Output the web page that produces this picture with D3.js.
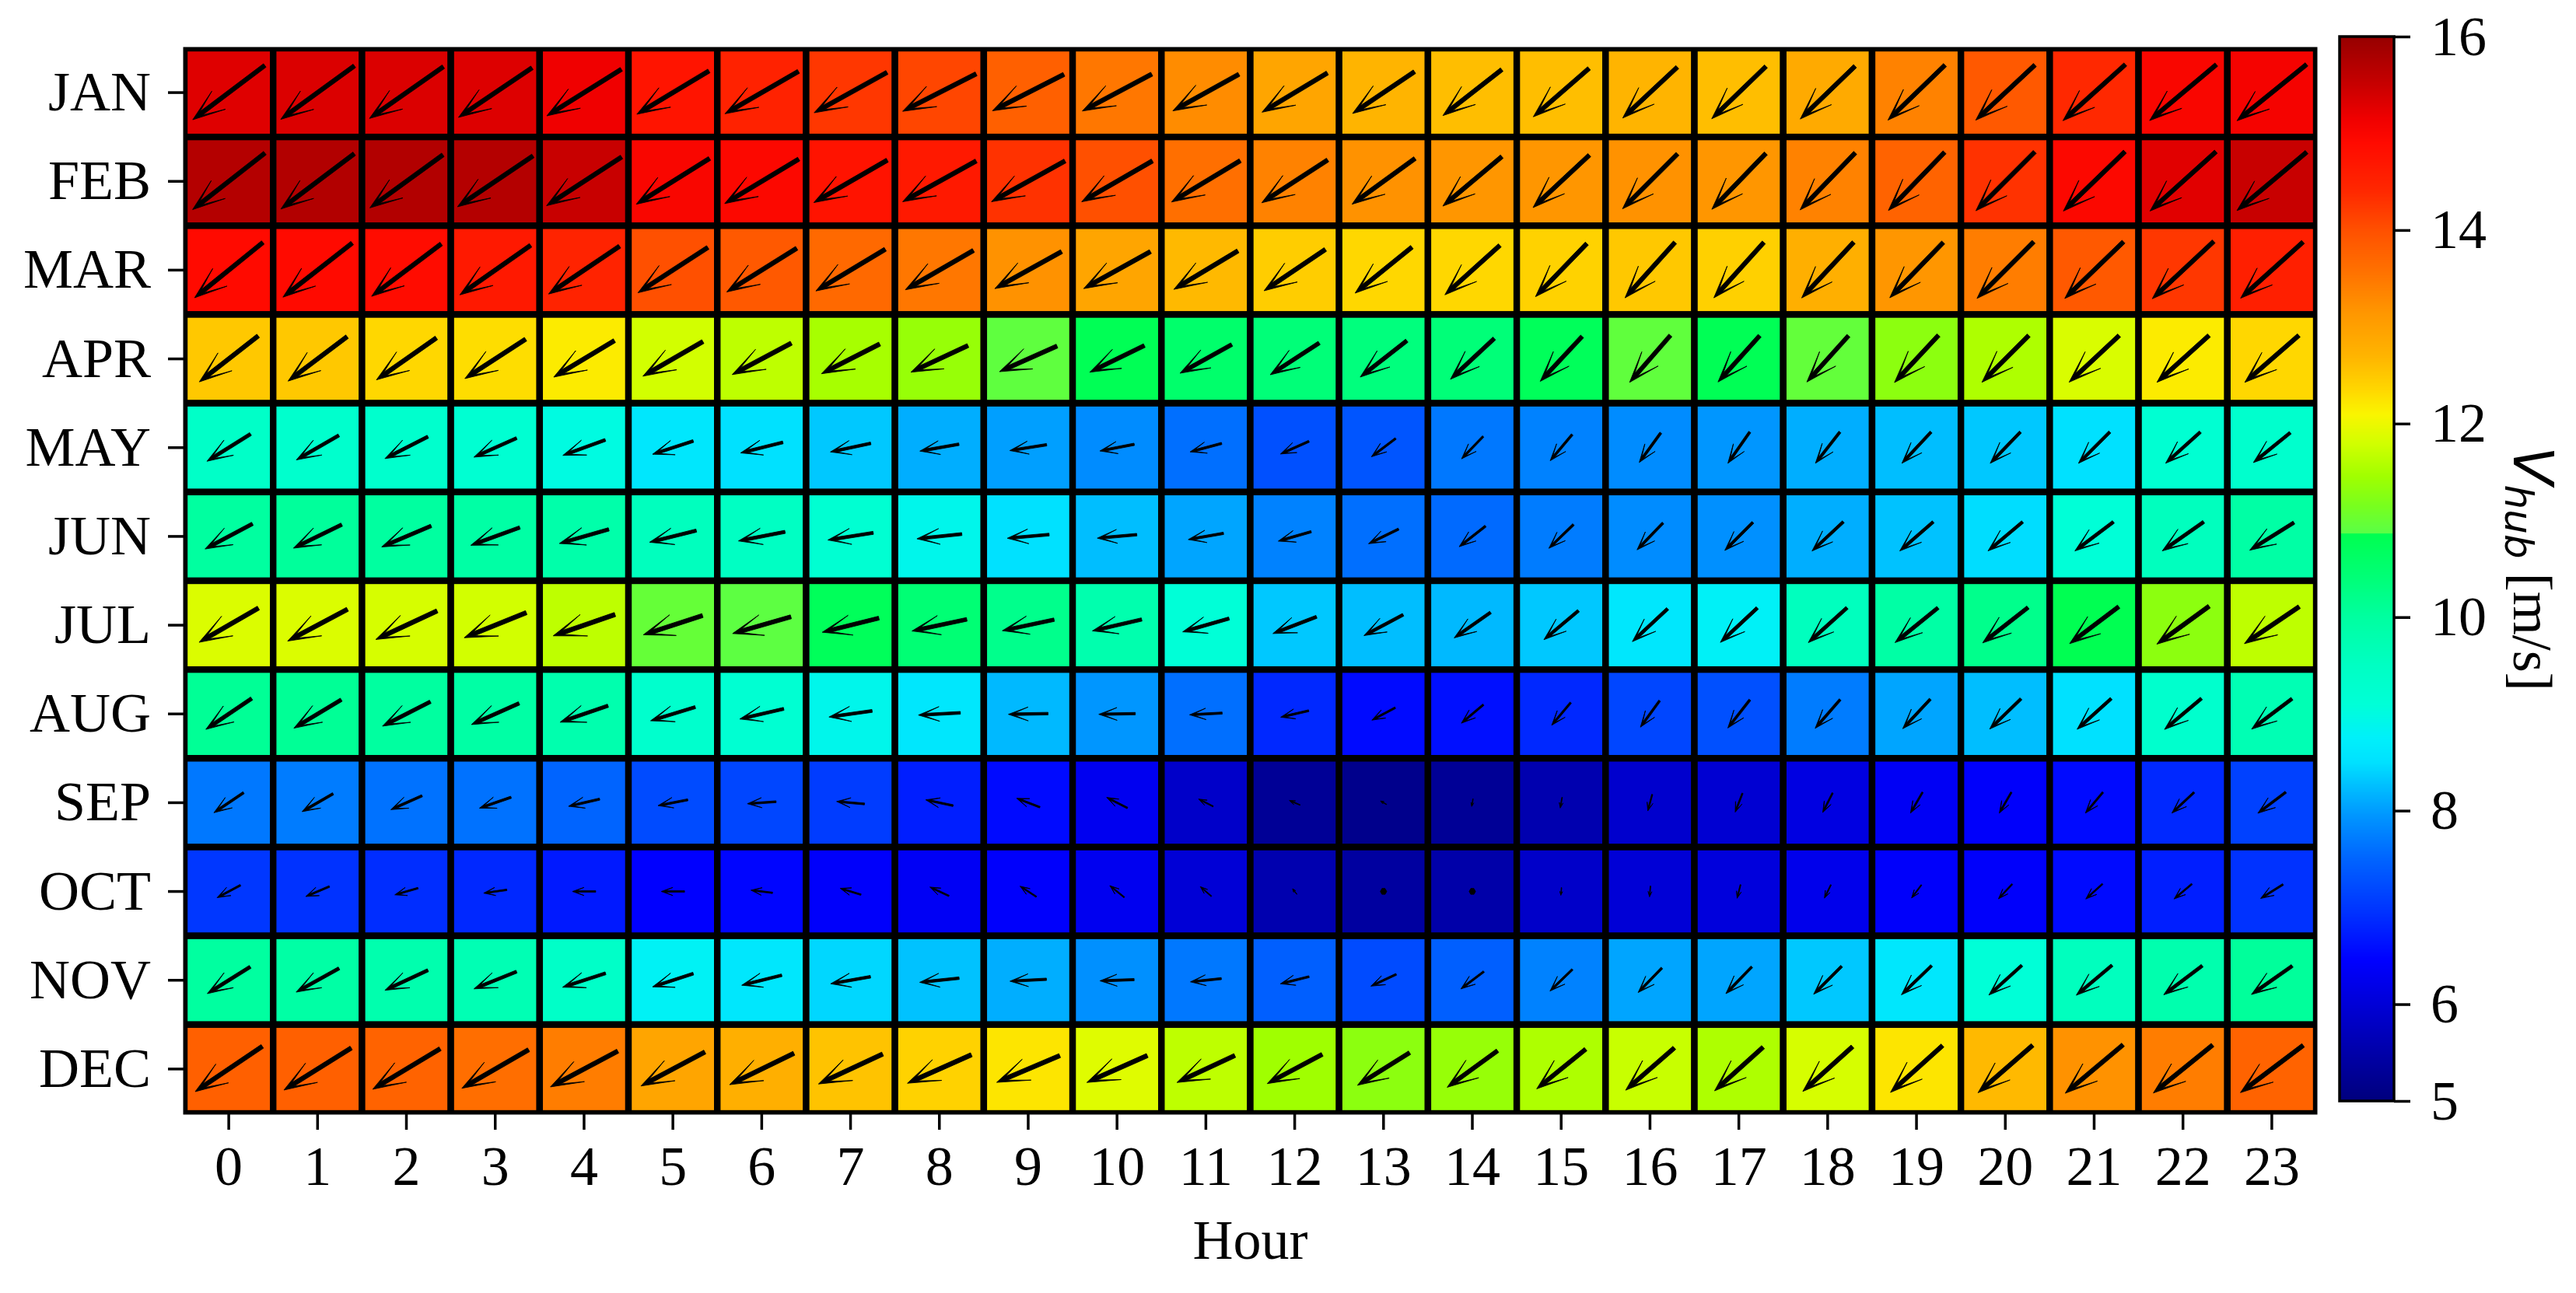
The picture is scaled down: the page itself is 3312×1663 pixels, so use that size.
<!DOCTYPE html>
<html><head><meta charset="utf-8">
<script src="https://cdn.jsdelivr.net/npm/d3@7"></script>
<style>body{margin:0;background:#fff} svg{display:block}</style>
</head><body>
<svg id="chart" width="3312" height="1663"></svg>
<script>
// ---------------- DATA ----------------
const months = ["JAN","FEB","MAR","APR","MAY","JUN","JUL","AUG","SEP","OCT","NOV","DEC"];
const hours = ["0","1","2","3","4","5","6","7","8","9","10","11","12","13","14","15","16","17","18","19","20","21","22","23"];
const colorbarTicks = [5, 6, 8, 10, 12, 14, 16];
const colorbarLabel = "V_hub [m/s]";
const xLabel = "Hour";

// hub-height wind speed (m/s), rows = months, cols = hours
const vhub = [
  [15.3,15.33,15.33,15.32,15.15,14.73,14.5,14.25,14.1,13.8,13.5,13.27,12.93,12.7,12.6,12.6,12.7,12.6,12.85,13.38,13.88,14.4,15.0,15.07],
  [15.7,15.72,15.72,15.7,15.5,15.0,14.95,14.75,14.65,14.3,14.0,13.6,13.38,13.2,13.15,13.15,13.2,13.15,13.38,13.75,14.3,14.95,15.28,15.5],
  [14.9,14.9,14.87,14.65,14.48,14.0,13.88,13.68,13.5,13.2,12.93,12.65,12.45,12.35,12.35,12.4,12.5,12.42,12.78,13.15,13.44,13.88,14.25,14.55],
  [12.5,12.5,12.35,12.3,12.18,11.8,11.66,11.5,11.38,10.92,10.8,10.55,10.4,10.35,10.4,10.75,10.93,10.8,10.95,11.3,11.55,11.85,12.18,12.35],
  [9.4,9.3,9.3,9.2,9.0,8.6,8.5,8.32,8.13,8.02,7.86,7.6,7.28,7.33,7.68,7.77,7.86,7.95,8.13,8.25,8.32,8.5,9.2,9.3],
  [10.0,10.05,10.0,9.93,9.86,9.57,9.5,9.2,8.9,8.5,8.25,8.06,7.77,7.6,7.55,7.72,7.86,7.9,8.13,8.28,8.47,9.1,9.57,9.93],
  [11.87,11.87,11.83,11.8,11.66,10.97,10.9,10.75,10.45,10.2,9.8,9.1,8.32,8.25,8.21,8.32,8.6,8.78,9.57,9.93,10.2,10.84,11.3,11.66],
  [10.1,10.1,10.0,9.93,9.8,9.3,9.2,8.9,8.6,8.21,7.95,7.6,6.85,6.55,6.6,6.85,7.17,7.28,7.72,8.06,8.25,8.5,9.3,9.72],
  [7.68,7.72,7.63,7.63,7.5,7.22,7.17,7.06,6.75,6.55,6.28,5.85,5.28,5.17,5.28,5.57,5.9,5.95,6.12,6.34,6.4,6.55,6.85,7.11],
  [7.0,6.95,6.9,6.85,6.7,6.45,6.5,6.4,6.34,6.42,6.28,6.0,5.57,5.4,5.5,5.85,6.0,6.06,6.23,6.4,6.4,6.55,6.75,6.95],
  [10.0,9.93,9.8,9.72,9.4,8.8,8.6,8.43,8.28,8.13,7.9,7.68,7.45,7.22,7.45,7.77,8.06,8.06,8.32,8.6,9.1,9.57,9.8,10.05],
  [13.8,13.8,13.75,13.62,13.44,12.93,12.78,12.55,12.4,12.23,11.9,11.66,11.45,11.3,11.38,11.55,11.73,11.55,11.83,12.23,12.65,13.2,13.44,13.75]
];

// mean wind vector magnitude (m/s)
const vecSpeed = [
  [11.6,11.7,11.6,11.4,11.3,10.8,10.9,10.7,10.6,10.3,10.1,9.7,9.8,9.6,9.6,9.5,9.6,9.7,9.8,10.2,10.4,10.8,11.2,11.5],
  [11.8,11.8,11.6,11.7,11.5,11.1,11.1,10.9,10.8,10.8,10.5,10.3,10.1,10.0,9.9,9.9,10.0,10.0,10.2,10.4,10.7,11.0,11.4,11.7],
  [11.3,11.3,11.2,11.1,11.0,10.7,10.6,10.4,10.1,9.8,9.8,9.6,9.5,9.4,9.5,9.5,9.6,9.6,9.8,9.9,10.3,10.5,10.8,10.8],
  [9.6,9.5,9.4,9.3,9.1,8.9,8.6,8.4,8.1,8.1,7.8,7.6,7.5,7.6,7.7,7.9,8.0,8.0,8.0,8.3,8.5,8.8,9.0,9.2],
  [6.6,6.3,6.2,6.0,5.8,5.5,5.6,5.3,5.1,4.8,4.5,4.2,4.0,3.9,4.0,4.4,4.7,4.9,5.1,5.5,5.6,5.7,6.0,6.1],
  [6.9,6.9,6.9,6.7,6.6,6.2,6.1,5.9,5.8,5.4,5.1,4.6,4.4,4.3,4.3,4.4,4.8,5.1,5.5,5.7,5.8,6.2,6.5,6.7],
  [8.8,8.7,8.7,8.6,8.4,8.0,7.8,7.5,7.2,6.8,6.5,6.2,6.0,5.7,5.7,5.8,6.2,6.5,6.7,7.1,7.4,7.9,8.3,8.5],
  [7.1,7.1,6.9,6.7,6.5,6.0,5.8,5.6,5.4,5.1,4.7,4.2,3.7,3.4,3.7,3.8,4.2,4.6,4.9,5.2,5.6,5.9,6.2,6.5],
  [4.6,4.6,4.4,4.3,4.1,3.9,3.7,3.6,3.6,3.2,3.0,2.1,1.5,0.9,1.0,1.4,2.2,2.6,2.8,3.1,3.1,3.5,3.9,4.5],
  [3.4,3.3,3.1,3.0,3.0,3.0,2.8,2.8,2.7,2.5,2.4,1.9,0.9,0.2,0.2,1.0,1.4,1.8,1.9,2.1,2.6,2.9,3.0,3.4],
  [6.5,6.3,6.1,5.9,5.8,5.5,5.3,5.2,5.1,4.7,4.4,4.0,3.8,3.6,3.7,4.0,4.4,4.8,5.1,5.4,5.7,6.0,6.2,6.4],
  [10.4,10.2,10.1,9.9,9.8,9.3,9.2,9.1,9.0,8.8,8.5,8.2,8.0,7.9,8.0,8.1,8.3,8.4,8.6,9.0,9.3,9.7,9.8,10.1]
];

// mean wind direction (degrees, meteorological "from")
const vecDir = [
  [53,54,55,56,58,59,60,61,63,63,62,61,59,56,52,49,47,46,46,46,47,48,50,51],
  [52,53,54,56,57,58,59,60,61,61,60,59,57,54,50,47,45,44,44,44,45,46,48,50],
  [51,52,53,55,56,57,58,59,60,61,61,59,56,51,48,44,42,42,43,44,45,46,47,48],
  [52,53,55,57,59,60,62,63,65,66,64,61,57,52,47,43,41,42,42,43,45,47,48,49],
  [58,60,63,66,70,72,76,78,80,81,79,75,66,53,44,40,36,35,38,43,44,45,48,51],
  [62,64,67,70,74,76,79,81,84,85,85,80,74,64,52,46,44,45,47,49,50,53,55,58],
  [60,62,65,68,71,72,74,76,78,78,77,74,69,62,55,50,47,47,48,51,52,53,54,56],
  [56,59,63,66,71,73,77,82,87,89,89,87,77,62,50,40,36,38,41,43,46,48,50,53],
  [56,60,66,71,77,79,86,95,102,111,117,117,113,120,10,10,15,21,27,30,30,40,47,53],
  [62,67,74,82,90,90,97,107,115,123,129,131,142,150,150,5,5,14,26,37,43,48,50,58],
  [58,61,65,68,72,72,76,80,84,87,88,84,76,65,53,46,44,44,45,46,48,50,53,55],
  [56,58,59,60,62,62,64,65,66,67,66,65,62,58,54,51,49,48,48,48,49,50,51,53]
];

// colormap stops
const cmapValues = [5.0,5.4,5.95,6.45,6.95,7.5,7.95,8.25,8.5,8.75,9.1,9.5,10.0,10.4,10.86,10.87,11.15,11.45,11.8,12.1,12.35,12.7,13.15,13.55,14.0,14.4,14.9,15.15,15.5,16.0];
const cmapColors = ["#00007d","#0000a0","#0000d2","#0000ff","#0032ff","#0064ff","#0096ff","#00beff","#00e1ff","#00f0fa","#00ffd7","#00ffc3","#00ffa0","#00ff78","#00ff50","#5aff46","#78ff1e","#a0ff00","#d2ff00","#faf500","#ffd700","#ffb400","#ff9600","#ff7300","#ff5000","#ff2800","#ff0a00","#f00000","#c80000","#960000"];

// ---------------- LAYOUT ----------------
const svg = d3.select("#chart");
const X0 = 237, X1 = 2978, Y0 = 62, Y1 = 1432;
const CB = {x0: 3008, x1: 3078, y0: 47, y1: 1416};
const FONT = "'Liberation Serif','Times New Roman',serif";
const FS = 72;

const x = d3.scaleBand().domain(hours).range([X0, X1]).padding(0);
const y = d3.scaleBand().domain(months).range([Y0, Y1]).padding(0);
const color = d3.scaleLinear().domain(cmapValues).range(cmapColors).interpolate(d3.interpolateRgb).clamp(true);
const arrowLen = d3.scaleLinear().domain([0, 1]).range([0, 10]); // px per m/s

// cells
const cells = [];
months.forEach((m, i) => hours.forEach((h, j) => cells.push({m, h, v: vhub[i][j], s: vecSpeed[i][j], d: vecDir[i][j]})));

svg.append("defs").append("clipPath").attr("id", "plotclip")
  .append("rect").attr("x", X0).attr("y", Y0).attr("width", X1 - X0).attr("height", Y1 - Y0);

const gCells = svg.append("g").attr("clip-path", "url(#plotclip)");
gCells.selectAll("rect").data(cells).join("rect")
  .attr("x", d => x(d.h)).attr("y", d => y(d.m))
  .attr("width", x.bandwidth()).attr("height", y.bandwidth())
  .attr("fill", d => color(d.v))
  .attr("stroke", "#000").attr("stroke-width", 8.4);

// quiver arrows (matplotlib-like geometry, pivot = middle)
const W = 5.5, HL = 7.6, HW = 5.3, HAL = 2.5, MINSHAFT = 2, MINLEN = 1.5;
function arrowPts(Lpx) {
  const len = Lpx / W;
  let X, Y;
  const ii = [0,1,2,3,2,1,0,0];
  if (len < MINLEN) {
    X = []; Y = [];
    for (let k = 0; k < 8; k++) { const th = k * Math.PI / 3; X.push(Math.cos(th) * MINLEN * 0.5); Y.push(Math.sin(th) * MINLEN * 0.5); }
  } else {
    const minsh = MINSHAFT * HL;
    let xs, s = 1;
    if (len < minsh) { xs = [0, minsh - HAL, minsh - HL, minsh]; s = len / minsh; }
    else { xs = [0, len - HAL, len - HL, len]; }
    const ys = [0.5, 0.5, HW / 2, 0];
    X = ii.map(k => xs[k] * s);
    Y = ii.map((k, n) => ys[k] * s * (n >= 3 && n <= 6 ? -1 : 1));
    const half = 0.5 * X[3];
    X = X.map(v => v - half);
  }
  return X.map((v, n) => [v * W, Y[n] * W]);
}
const gArr = svg.append("g");
gArr.selectAll("path").data(cells).join("path")
  .attr("d", d => "M" + arrowPts(arrowLen(d.s)).map(p => p[0].toFixed(2) + "," + p[1].toFixed(2)).join("L") + "Z")
  .attr("transform", d => {
    const r = d.d * Math.PI / 180;
    const u = -d.s * Math.sin(r), v = -d.s * Math.cos(r);
    const ang = Math.atan2(-v, u) * 180 / Math.PI;
    return `translate(${x(d.h) + x.bandwidth() / 2},${y(d.m) + y.bandwidth() / 2}) rotate(${ang})`;
  })
  .attr("fill", "#000").attr("stroke", "#000").attr("stroke-width", 0.8).attr("stroke-linejoin", "miter");

// spine
svg.append("rect").attr("x", X0).attr("y", Y0).attr("width", X1 - X0).attr("height", Y1 - Y0)
  .attr("fill", "none").attr("stroke", "#000").attr("stroke-width", 3);

// axes
const gx = svg.append("g").attr("transform", `translate(0,${Y1})`)
  .call(d3.axisBottom(x).tickSize(21).tickPadding(20));
const gy = svg.append("g").attr("transform", `translate(${X0},0)`)
  .call(d3.axisLeft(y).tickSize(21).tickPadding(22));
[gx, gy].forEach(g => {
  g.select(".domain").remove();
  g.selectAll(".tick line").attr("stroke", "#000").attr("stroke-width", 3.5);
  g.selectAll(".tick text").attr("font-family", FONT).attr("font-size", FS).attr("fill", "#000");
});

svg.append("text").attr("x", (X0 + X1) / 2).attr("y", 1619).attr("text-anchor", "middle")
  .attr("font-family", FONT).attr("font-size", FS).text(xLabel);

// colorbar
const cbScale = d3.scaleLinear().domain([5, 16]).range([CB.y1, CB.y0]);
const cbSteps = d3.range(CB.y0, CB.y1, 1);
svg.append("g").selectAll("rect").data(cbSteps).join("rect")
  .attr("x", CB.x0).attr("y", d => d).attr("width", CB.x1 - CB.x0).attr("height", 1.6)
  .attr("fill", d => color(cbScale.invert(d + 0.5)));
svg.append("rect").attr("x", CB.x0).attr("y", CB.y0).attr("width", CB.x1 - CB.x0).attr("height", CB.y1 - CB.y0)
  .attr("fill", "none").attr("stroke", "#000").attr("stroke-width", 3.5);
const gcb = svg.append("g").attr("transform", `translate(${CB.x1},0)`)
  .call(d3.axisRight(cbScale).tickValues(colorbarTicks).tickFormat(d3.format("d")).tickSize(21).tickPadding(26));
gcb.select(".domain").remove();
gcb.selectAll(".tick line").attr("stroke", "#000").attr("stroke-width", 3.5);
gcb.selectAll(".tick text").attr("font-family", FONT).attr("font-size", FS).attr("fill", "#000");

// colorbar label: V_hub [m/s], rotated to read top-to-bottom
const parts = colorbarLabel.split(/[_ ]/); // ["V","hub","[m/s]"]
const lab = svg.append("text").attr("transform", `translate(3232,${(CB.y0 + CB.y1) / 2}) rotate(90)`)
  .attr("text-anchor", "middle").attr("font-size", FS).attr("fill", "#000");
lab.append("tspan").attr("font-family", "'DejaVu Sans',sans-serif").attr("font-style", "italic").text(parts[0]);
lab.append("tspan").attr("font-family", "'DejaVu Sans',sans-serif").attr("font-style", "italic")
  .attr("font-size", 50).attr("dy", 11).text(parts[1]);
lab.append("tspan").attr("font-family", FONT).attr("dy", -11).text("\u00a0" + parts[2]);
</script>
</body></html>
